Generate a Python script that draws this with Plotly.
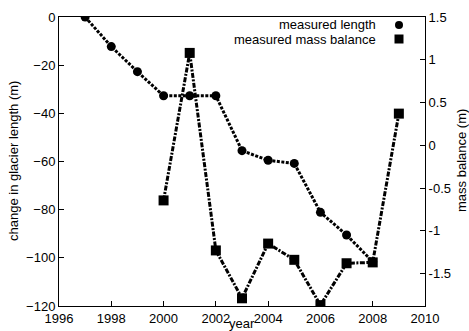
import plotly.graph_objects as go

years_len = [1997, 1998, 1999, 2000, 2001, 2002, 2003, 2004, 2005, 2006, 2007, 2008]
length_change = [0, -12.3, -22.7, -32.7, -32.7, -32.7, -55.5, -59.5, -60.8, -81.1, -90.5, -101.6]

years_mb = [2000, 2001, 2002, 2003, 2004, 2005, 2006, 2007, 2008, 2009]
mass_balance = [-0.645, 1.08, -1.23, -1.79, -1.15, -1.34, -1.87, -1.38, -1.37, 0.37]

x_ticks = [1996, 1998, 2000, 2002, 2004, 2006, 2008, 2010]
y_ticks = [0, -20, -40, -60, -80, -100, -120]
y2_ticks = [1.5, 1, 0.5, 0, -0.5, -1, -1.5]
y2_labels = ["1.5", "1", "0.5", "0", "-0.5", "-1", "-1.5"]

font = "Liberation Sans, Arial, sans-serif"

# plot area in pixels
W, H = 469, 331
L, R, T, B = 59, 44, 17, 25
PW, PH = W - L - R, H - T - B


def px(x):
    return (x - L) / PW


def py(y):
    return (H - B - y) / PH


fig = go.Figure()
fig.add_trace(go.Scatter(
    x=years_len, y=length_change, mode="lines+markers", name="measured length",
    line=dict(color="black", width=3, dash="3px,1.5px"),
    marker=dict(symbol="circle", size=9, color="black"),
    yaxis="y"))
fig.add_trace(go.Scatter(
    x=years_mb, y=mass_balance, mode="lines+markers", name="measured mass balance",
    line=dict(color="black", width=3, dash="5px,1.5px,2px,1.5px"),
    marker=dict(symbol="square", size=10, color="black"),
    yaxis="y2"))

axis_common = dict(showgrid=False, zeroline=False, showline=True, linecolor="black",
                   linewidth=1, ticks="inside", ticklen=5, tickcolor="black", automargin=False,
                   tickfont=dict(family=font, size=13, color="black"))

fig.update_layout(
    width=W, height=H,
    margin=dict(l=L, r=R, t=T, b=B),
    paper_bgcolor="white", plot_bgcolor="white",
    showlegend=False,
    font=dict(family=font, size=13, color="black"),
    xaxis=dict(range=[1996, 2010], tickvals=x_ticks, mirror=True, **axis_common),
    yaxis=dict(range=[-120, 0], tickvals=y_ticks, **axis_common),
    yaxis2=dict(range=[-1.88, 1.5], tickvals=y2_ticks, ticktext=y2_labels,
                overlaying="y", side="right", **axis_common),
)

# axis titles
fig.add_annotation(xref="paper", yref="paper", x=px(242.5), y=py(323.5), xanchor="center", yanchor="middle",
                   text="year", showarrow=False, borderpad=0, font=dict(family=font, size=13))
fig.add_annotation(xref="paper", yref="paper", x=px(13), y=py(161), xanchor="center", yanchor="middle",
                   text="change in glacier length (m)", textangle=-90, showarrow=False,
                   font=dict(family=font, size=13))
fig.add_annotation(xref="paper", yref="paper", x=px(461), y=py(161), xanchor="center", yanchor="middle",
                   text="mass balance (m)", textangle=-90, showarrow=False,
                   font=dict(family=font, size=13))

# legend (text right-aligned, symbols to the right)
fig.add_annotation(xref="paper", yref="paper", x=px(377), y=py(24.5), xanchor="right", yanchor="middle",
                   text="measured length", showarrow=False, borderpad=0, font=dict(family=font, size=13))
fig.add_annotation(xref="paper", yref="paper", x=px(377), y=py(39.5), xanchor="right", yanchor="middle",
                   text="measured mass balance", showarrow=False, borderpad=0, font=dict(family=font, size=13))
fig.add_shape(type="circle", xref="paper", yref="paper", x0=px(395), x1=px(403), y0=py(29), y1=py(21),
              fillcolor="black", line=dict(width=0))
fig.add_shape(type="rect", xref="paper", yref="paper", x0=px(394.5), x1=px(403.5), y0=py(43.5), y1=py(34.5),
              fillcolor="black", line=dict(width=0))

fig.write_html("out.html")
